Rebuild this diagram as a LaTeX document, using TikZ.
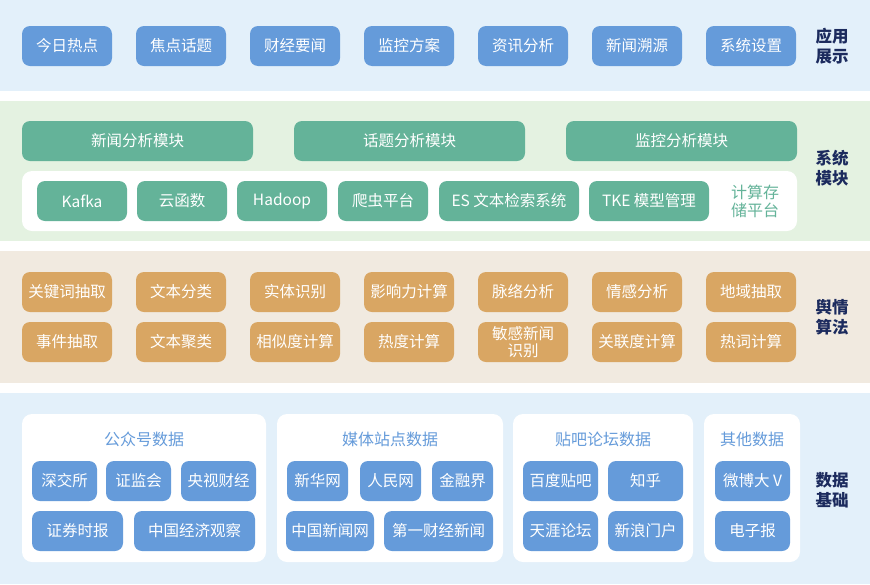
\documentclass[tikz,border=0pt]{standalone}
\usepackage{fontspec}
\setmainfont{Noto Sans CJK SC}
\definecolor{bandblue}{HTML}{E3F0FA}
\definecolor{bandgreen}{HTML}{E4F2E1}
\definecolor{bandbeige}{HTML}{F1EAE0}
\definecolor{btnblue}{HTML}{659BDA}
\definecolor{btngreen}{HTML}{64B399}
\definecolor{btnorange}{HTML}{D9A663}
\definecolor{navy}{HTML}{1C2B5E}

\tikzset{
  btn/.style={rounded corners=8pt, inner sep=0pt, minimum height=40pt, text=white,
    font=\fontsize{15.5}{17}\selectfont, align=center},
  bluebtn/.style={btn, fill=btnblue, minimum width=#1},
  bluebtn/.default=90pt,
  greenbtn/.style={btn, fill=btngreen, minimum width=#1},
  greenbtn/.default=90pt,
  orangebtn/.style={btn, fill=btnorange, minimum width=90pt},
  layerlabel/.style={text=navy, align=center, font=\bfseries\fontsize{16.5}{20}\selectfont},
  whitebox/.style={fill=white, rounded corners=10pt},
  boxtitle/.style={text=btnblue, font=\fontsize{16}{18}\selectfont}
}

\begin{document}
\begin{tikzpicture}[x=1pt, y=-1pt]
  \useasboundingbox (0,0) rectangle (870,584);

  % Background bands
  \fill[bandblue] (0,0) rectangle (870,91);
  \fill[bandgreen] (0,101) rectangle (870,241);
  \fill[bandbeige] (0,251) rectangle (870,383);
  \fill[bandblue] (0,393) rectangle (870,584);

  % Application layer
  \foreach \t [count=\i] in {今日热点,焦点话题,财经要闻,监控方案,资讯分析,新闻溯源,系统设置}
    \node[bluebtn] (app\i) at ({67+114*(\i-1)},46) {\t};
  \node[layerlabel] (applabel) at (832,46) {应用\\展示};

  % System modules
  \node[greenbtn=231pt] (news) at (137.5,141) {新闻分析模块};
  \node[greenbtn=231pt] (topic) at (409.5,141) {话题分析模块};
  \node[greenbtn=231pt] (monitor) at (681.5,141) {监控分析模块};
  \fill[whitebox] (22,171) rectangle (797,231);
  \node[greenbtn] (kafka) at (82,201) {Kafka};
  \node[greenbtn] (cloudfn) at (182,201) {云函数};
  \node[greenbtn] (hadoop) at (282,201) {Hadoop};
  \node[greenbtn] (crawler) at (383,201) {爬虫平台};
  \node[greenbtn=140pt] (es) at (509,201) {ES 文本检索系统};
  \node[greenbtn=120pt] (tke) at (649,201) {TKE 模型管理};
  \node[text=btngreen, align=center, font=\fontsize{16}{18}\selectfont] (platform) at (755,201) {计算存\\储平台};
  \node[layerlabel] (syslabel) at (832,168) {系统\\模块};

  % Algorithm layer
  \foreach \t [count=\i] in {关键词抽取,文本分类,实体识别,影响力计算,脉络分析,情感分析,地域抽取}
    \node[orangebtn] (alga\i) at ({67+114*(\i-1)},292) {\t};
  \foreach \t [count=\i] in {事件抽取,文本聚类,相似度计算,热度计算,{敏感新闻\\识别},关联度计算,热词计算}
    \node[orangebtn] (algb\i) at ({67+114*(\i-1)},342) {\t};
  \node[layerlabel] (alglabel) at (832,317) {舆情\\算法};

  % Data sources
  \fill[whitebox] (22,414) rectangle (266,562);
  \fill[whitebox] (277,414) rectangle (503,562);
  \fill[whitebox] (513,414) rectangle (693,562);
  \fill[whitebox] (704,414) rectangle (800,562);
  \node[boxtitle] (wechat) at (144,439) {公众号数据};
  \node[boxtitle] (media) at (390,439) {媒体站点数据};
  \node[boxtitle] (forum) at (603,439) {贴吧论坛数据};
  \node[boxtitle] (other) at (752,439) {其他数据};

  \node[bluebtn=65pt] (szse) at (64.5,481) {深交所};
  \node[bluebtn=65pt] (csrc) at (138.5,481) {证监会};
  \node[bluebtn=75pt] (cctv) at (218.5,481) {央视财经};
  \node[bluebtn=91pt] (sectimes) at (77.5,531) {证券时报};
  \node[bluebtn=121pt] (ceo) at (194.5,531) {中国经济观察};

  \node[bluebtn=61pt] (xinhua) at (317.5,481) {新华网};
  \node[bluebtn=61pt] (people) at (390.5,481) {人民网};
  \node[bluebtn=61pt] (jrj) at (462.5,481) {金融界};
  \node[bluebtn=88pt] (chinanews) at (330,531) {中国新闻网};
  \node[bluebtn=109pt] (yicai) at (438.5,531) {第一财经新闻};

  \node[bluebtn=75pt] (tieba) at (560.5,481) {百度贴吧};
  \node[bluebtn=75pt] (zhihu) at (645.5,481) {知乎};
  \node[bluebtn=75pt] (tianya) at (560.5,531) {天涯论坛};
  \node[bluebtn=75pt] (sina) at (645.5,531) {新浪门户};

  \node[bluebtn=75pt] (weibo) at (752.5,481) {微博大 V};
  \node[bluebtn=75pt] (epaper) at (752.5,531) {电子报};
  \node[layerlabel] (datalabel) at (832,490) {数据\\基础};
\end{tikzpicture}
\end{document}
